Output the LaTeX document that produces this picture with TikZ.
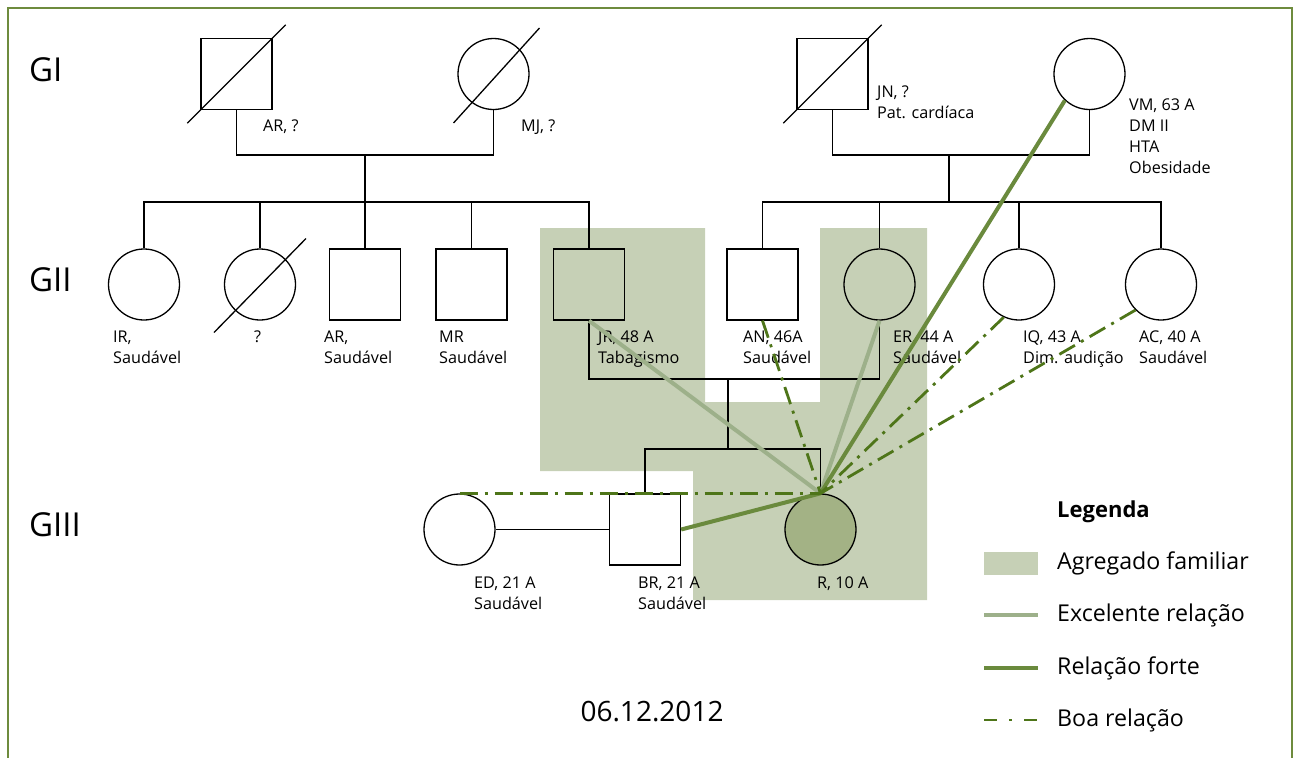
\documentclass[tikz,border=0pt]{standalone}
\usepackage{fontspec}
\setmainfont{Open Sans}
\usetikzlibrary{positioning}
\definecolor{gfframe}{HTML}{6E8B3D}
\definecolor{gfshade}{HTML}{C6D0B6}
\definecolor{gfindex}{HTML}{A3B285}
\definecolor{gfexc}{HTML}{9DB08A}
\definecolor{gfforte}{HTML}{6A8A3D}
\definecolor{gfboa}{HTML}{4E7519}

\begin{document}
\begin{tikzpicture}[x=1pt,y=-1pt,
   male/.style={draw,line width=1.3pt,rectangle,minimum size=71pt,inner sep=0pt},
   female/.style={draw,line width=1.3pt,circle,minimum size=71pt,inner sep=0pt},
   lbl/.style={anchor=north west,inner sep=0pt,align=left,
               font=\fontsize{16.2}{21}\selectfont},
   gen/.style={anchor=west,inner sep=0pt,font=\fontsize{33}{38}\selectfont},
   fam/.style={line width=1.3pt},
   exc/.style={line width=4pt,gfexc},
   forte/.style={line width=4pt,gfforte},
   boa/.style={line width=2.8pt,gfboa,dash pattern=on 18pt off 7pt on 3pt off 7pt},
   leg/.style={anchor=west,inner sep=0pt,font=\fontsize{23.2}{27}\selectfont}]
  \useasboundingbox (0,0) rectangle (1294,758);
  % agregado familiar
  \fill[gfshade] (540,228) -- (705,228) -- (705,402) -- (820,402) -- (820,228)
     -- (927,228) -- (927,600) -- (693,600) -- (693,471) -- (540,471) -- cycle;
  \draw[gfframe,line width=2pt] (8,758) -- (8,8) -- (1292,8) -- (1292,758);
  \node[gen] (g1) at (29,70) {GI};
  \node[gen] (g2) at (29,280) {GII};
  \node[gen] (g3) at (29,525) {GIII};
  % GI
  \node[male] (ARa) at (236.5,74) {};
  \node[female] (MJ) at (493.5,74) {};
  \node[male] (JN) at (832.5,74) {};
  \node[female] (VM) at (1089.5,74) {};
  \draw[fam] ([shift={(-13,13)}]ARa.south west) -- ([shift={(13,-13)}]ARa.north east);
  \draw[fam] ([shift={(-40,49)}]MJ.center) -- ([shift={(46,-46)}]MJ.center);
  \draw[fam] ([shift={(-13,13)}]JN.south west) -- ([shift={(13,-13)}]JN.north east);
  \node[lbl] (lARa) at (263,120) {AR, ?};
  \node[lbl] (lMJ) at (521,120) {MJ, ?};
  \node[lbl] (lJN) at (877,86) {JN, ?\\Pat. cardíaca};
  \node[lbl] (lVM) at (1129,99) {VM, 63 A\\DM II\\HTA\\Obesidade};
  % GII
  \node[female] (IR) at (144,284.5) {};
  \node[female] (Q) at (260,284.5) {};
  \node[male] (ARb) at (365,284.5) {};
  \node[male] (MR) at (471.5,284.5) {};
  \node[male] (JR) at (589,284.5) {};
  \node[male] (AN) at (762.5,284.5) {};
  \node[female] (ER) at (879.5,284.5) {};
  \node[female] (IQ) at (1019,284.5) {};
  \node[female] (AC) at (1161,284.5) {};
  \draw[fam] ([shift={(-46,48)}]Q.center) -- ([shift={(46,-46)}]Q.center);
  \node[lbl] (lIR) at (113,331) {IR,\\Saudável};
  \node[lbl] (lQ) at (254,331) {?};
  \node[lbl] (lARb) at (324,331) {AR,\\Saudável};
  \node[lbl] (lMR) at (439,331) {MR\\Saudável};
  \node[lbl] (lJR) at (598,331) {JR, 48 A\\Tabagismo};
  \node[lbl] (lAN) at (743,331) {AN, 46A\\Saudável};
  \node[lbl] (lER) at (893,331) {ER, 44 A\\Saudável};
  \node[lbl] (lIQ) at (1023,331) {IQ, 43 A\\Dim. audição};
  \node[lbl] (lAC) at (1139,331) {AC, 40 A\\Saudável};
  % GIII
  \node[female] (ED) at (459.5,529.5) {};
  \node[male] (BR) at (645,529.5) {};
  \node[female,fill=gfindex] (R) at (820.5,529.5) {};
  \node[lbl] (lED) at (474,577) {ED, 21 A\\Saudável};
  \node[lbl] (lBR) at (638,577) {BR, 21 A\\Saudável};
  \node[lbl] (lR) at (817,577) {R, 10 A};
  % family lines
  \coordinate (c1) at (365,155);
  \coordinate (s1) at (365,202);
  \coordinate (c2) at (949,155);
  \coordinate (s2) at (949,202);
  \coordinate (c3) at (728,379);
  \coordinate (s3) at (728,449);
  \draw[fam] (ARa.south) |- (c1) -| (MJ.south);
  \draw[fam] (c1) -- (s1);
  \draw[fam] (IR.north) |- (s1) -| (JR.north);
  \draw[fam] (Q.north) -- (Q.north |- s1);
  \draw[fam] (ARb.north) -- (s1);
  \draw[fam] (MR.north) -- (MR.north |- s1);
  \draw[fam] (JN.south) |- (c2) -| (VM.south);
  \draw[fam] (c2) -- (s2);
  \draw[fam] (AN.north) |- (s2) -| (AC.north);
  \draw[fam] (ER.north) -- (ER.north |- s2);
  \draw[fam] (IQ.north) -- (IQ.north |- s2);
  \draw[fam] (JR.south) |- (c3) -| (ER.south);
  \draw[fam] (c3) -- (s3);
  \draw[fam] (BR.north) |- (s3) -| (R.north);
  \draw[fam] (ED.east) -- (BR.west);
  % relations
  \draw[exc] (JR.south) -- (R.north);
  \draw[exc] (ER.south) -- (R.north);
  \draw[forte] (VM.227) -- (R.north);
  \draw[forte] (BR.east) -- (R.north);
  \draw[boa] (AN.south) -- (R.north);
  \draw[boa] (IQ.245) -- (R.north);
  \draw[boa] (AC.225) -- (R.north);
  \draw[boa] (ED.north) -- (R.north);
  % legenda
  \node[leg,font=\fontsize{22}{26}\selectfont\bfseries] (legT) at (1057,512) {Legenda};
  \node[fill=gfshade,minimum width=54pt,minimum height=23pt,inner sep=0pt] (lg1) at (1011,563.5) {};
  \node[leg] (lt1) at (1057,563.5) {Agregado familiar};
  \coordinate (la2) at (984,615);  \coordinate (lb2) at (1038,615);
  \coordinate (la3) at (984,668);  \coordinate (lb3) at (1038,668);
  \coordinate (la4) at (984,720);  \coordinate (lb4) at (1038,720);
  \draw[exc] (la2) -- (lb2);
  \draw[forte] (la3) -- (lb3);
  \draw[boa,dash pattern=on 13pt off 12pt on 3pt off 12pt] (la4) -- (lb4);
  \node[leg] (lt2) at (1057,615) {Excelente relação};
  \node[leg] (lt3) at (1057,668) {Relação forte};
  \node[leg] (lt4) at (1057,720) {Boa relação};
  \node[font=\fontsize{28}{32}\selectfont] (date) at (652,712) {06.12.2012};
\end{tikzpicture}
\end{document}
